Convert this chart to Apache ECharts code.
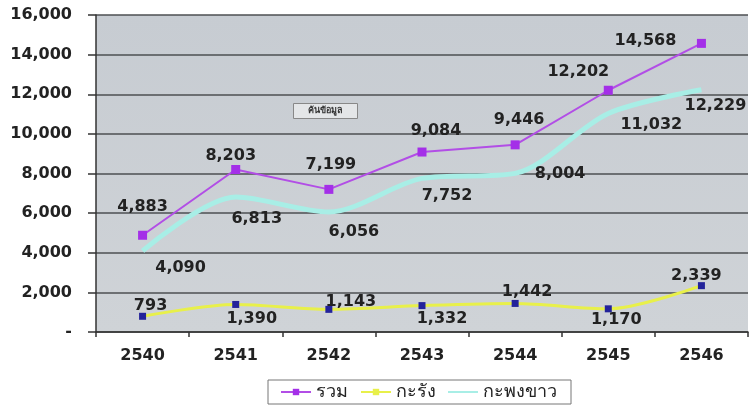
<!DOCTYPE html>
<html>
<head>
<meta charset="utf-8">
<script src="https://cdn.jsdelivr.net/npm/echarts@6/dist/echarts.min.js"></script>
<style>
  html, body { margin: 0; padding: 0; background: #ffffff; }
  #chart { width: 749px; height: 406px; }
</style>
</head>
<body>
<div id="chart"></div>
<script>
// Years (Buddhist era) along the category axis
const years = ['2540', '2541', '2542', '2543', '2544', '2545', '2546'];

// Series values
const totalValues = [4883, 8203, 7199, 9084, 9446, 12202, 14568];   // รวม
const grouperValues = [793, 1390, 1143, 1332, 1442, 1170, 2339];    // กะรัง
const seabassValues = [4090, 6813, 6056, 7752, 8004, 11032, 12229]; // กะพงขาว

// Series names
const seriesNames = ['รวม', 'กะรัง', 'กะพงขาว'];

// Value-axis ticks
const yMin = 0, yMax = 16000, yStep = 2000;

// Label nudges (pixels from each point) so the value labels sit clear of the lines
const totalLabelShift = [[0, -28], [-5, -14], [2, -25], [14, -21], [4, -25], [-30, -18], [-56, -3]];
const grouperLabelShift = [[8, -10], [16, 14], [22, -8], [20, 13], [12, -12], [8, 11], [-5, -10]];
const seabassLabelShift = [[38, 17], [21, 22], [25, 20], [25, 17], [45, 0], [43, 11], [14, 16]];

const fmt = v => v.toLocaleString('en-US');
const labelFont = { fontFamily: 'DejaVu Sans', fontWeight: 'bold', fontSize: 16, color: '#222' };

function withLabels(values, shifts) {
  return values.map((v, i) => ({
    value: v,
    label: { offset: shifts[i] }
  }));
}

const valueLabel = Object.assign({ show: true, position: 'inside', opacity: 1, formatter: p => fmt(p.value) }, labelFont);

const chart = echarts.init(document.getElementById('chart'), null, { renderer: 'canvas' });

chart.setOption({
  animation: false,
  backgroundColor: '#ffffff',
  grid: {
    left: 96, right: 1, top: 15, bottom: 74,
    show: true,
    borderWidth: 0,
    backgroundColor: new echarts.graphic.LinearGradient(0, 0, 0, 1, [
      { offset: 0, color: '#c7ccd2' },
      { offset: 1, color: '#cfd3d7' }
    ])
  },
  xAxis: {
    type: 'category',
    data: years,
    boundaryGap: true,
    axisLine: { lineStyle: { color: '#333', width: 1.5 } },
    axisTick: { show: true, length: 5, lineStyle: { color: '#333', width: 1.5 } },
    axisLabel: Object.assign({ margin: 16 }, labelFont)
  },
  yAxis: {
    type: 'value',
    min: yMin, max: yMax, interval: yStep,
    axisLine: { show: true, lineStyle: { color: '#333', width: 1.5 } },
    axisTick: { show: true, length: 8, lineStyle: { color: '#333', width: 1.5 } },
    splitLine: { lineStyle: { color: '#4d4f52', width: 1.5 } },
    axisLabel: Object.assign({
      margin: 24,
      formatter: v => (v === 0 ? '-' : fmt(v))
    }, labelFont)
  },
  legend: {
    left: 268, top: 380,
    padding: [3, 14, 3, 12],
    itemGap: 12,
    itemWidth: 30, itemHeight: 8,
    borderColor: '#777', borderWidth: 1,
    backgroundColor: '#ffffff',
    textStyle: { fontSize: 18, color: '#222' },
    data: [
      { name: seriesNames[0] },
      { name: seriesNames[1], itemStyle: { color: '#e8f04a' } },
      { name: seriesNames[2], icon: 'path://M0,0 L30,0 L30,2 L0,2 Z', itemStyle: { color: '#a8eee6' } }
    ]
  },
  graphic: [{
    type: 'group',
    left: 293, top: 103,
    children: [
      { type: 'rect', shape: { x: 0, y: 0, width: 64, height: 15 },
        style: { fill: '#e4e6e8', stroke: '#888', lineWidth: 1 } },
      { type: 'text', x: 32, y: 7.5,
        style: { text: 'ค้นข้อมูล', fontSize: 9, fontWeight: 'bold', fill: '#333',
                 align: 'center', verticalAlign: 'middle' } }
    ]
  }],
  series: [
    {
      name: seriesNames[2],
      type: 'line',
      smooth: 0.3,
      symbol: 'none',
      z: 2,
      lineStyle: { color: '#a8eee6', width: 5 },
      itemStyle: { color: '#a8eee6' },
      data: seabassValues
    },
    {
      // value labels for the กะพงขาว line (the line itself carries no markers)
      name: 'seabass-labels',
      type: 'scatter',
      symbolSize: 0,
      z: 5,
      silent: true,
      itemStyle: { opacity: 1, color: 'rgba(0,0,0,0)' },
      data: withLabels(seabassValues, seabassLabelShift),
      label: valueLabel
    },
    {
      name: seriesNames[1],
      type: 'line',
      smooth: 0.3,
      symbol: 'rect',
      symbolSize: 7,
      z: 3,
      lineStyle: { color: '#e8f04a', width: 3 },
      itemStyle: { color: '#23239a' },
      data: withLabels(grouperValues, grouperLabelShift),
      label: valueLabel
    },
    {
      name: seriesNames[0],
      type: 'line',
      symbol: 'rect',
      symbolSize: 9,
      z: 4,
      lineStyle: { color: '#b24ee6', width: 2 },
      itemStyle: { color: '#a42fe8' },
      data: withLabels(totalValues, totalLabelShift),
      label: valueLabel
    }
  ]
});
</script>
</body>
</html>
